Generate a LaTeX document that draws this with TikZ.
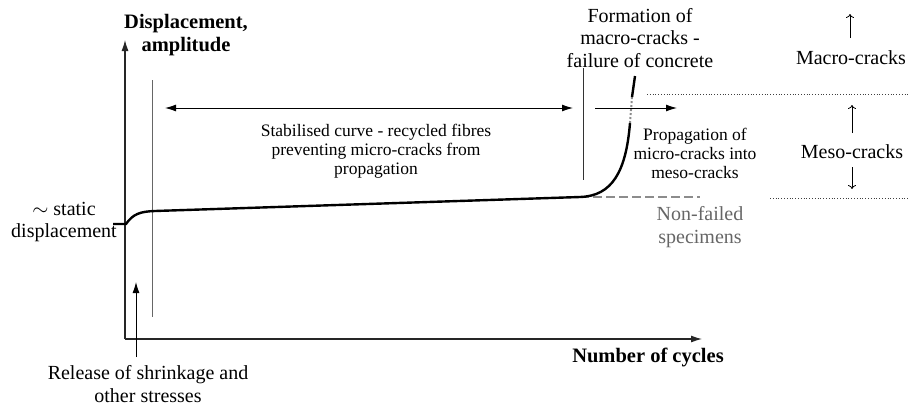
\documentclass[tikz,border=0pt]{standalone}
\usepackage{fontspec}
\setmainfont{Liberation Serif}
\usetikzlibrary{arrows.meta}
\tikzset{
	lbl/.style={align=center,inner sep=0pt,font=\fontsize{20}{22.5}\selectfont},
	smalllbl/.style={align=center,inner sep=0pt,font=\fontsize{17.5}{19}\selectfont},
	axislbl/.style={align=center,inner sep=0pt,font=\fontsize{20.5}{23}\selectfont\bfseries},
	axis/.style={line width=1.1pt,black!85,-{Latex[length=11pt,width=7pt]}},
	pointer/.style={line width=0.9pt,-{Latex[length=11pt,width=7pt]}},
	twoway/.style={line width=0.9pt,{Latex[length=11pt,width=7pt]}-{Latex[length=11pt,width=7pt]}},
	openarrow/.style={line width=0.8pt,-{To[length=4pt,width=8pt]}},
	guide/.style={line width=0.8pt,black!60},
	limit/.style={line width=0.8pt,black!75,dotted},
	curve/.style={line width=2.4pt,black},
	nonfail/.style={line width=2.6pt,black!45,dash pattern=on 9pt off 4pt}
}
\begin{document}
\begin{tikzpicture}[x=1pt,y=-1pt]
	\useasboundingbox (0,0) rectangle (909,407);
	% axes
	\coordinate (O) at (125,339);
	\coordinate (ytip) at (125,40);
	\coordinate (xtip) at (702,339);
	\draw [axis] (O) -- (ytip);
	\draw [axis] (O) -- (xtip);
	\node [axislbl] (ylabel) at (186,35) {Displacement,\\amplitude};
	\node [axislbl] (xlabel) at (648,357) {Number of cycles};
	% guide lines
	\coordinate (gtop) at (152,80);
	\coordinate (gbot) at (152,317);
	\draw [guide] (gtop) -- (gbot);
	\coordinate (ftop) at (583,68);
	\coordinate (fbot) at (583,180);
	\draw [line width=0.8pt,black!80] (ftop) -- (fbot);
	% release of stresses
	\node [lbl] (release) at (148,384) {Release of shrinkage and\\other stresses};
	\coordinate (rtail) at (136,357);
	\coordinate (rtip) at (136,282);
	\draw [pointer] (rtail) -- (rtip);
	% static displacement
	\node [lbl] (static) at (64,222) {$\sim$ static\\displacement};
	% curves
	\coordinate (c0) at (113,224);
	\coordinate (c1) at (126,224);
	\coordinate (c2) at (155,211);
	\coordinate (c3) at (580,197);
	\coordinate (c4) at (630,123);
	\coordinate (c5) at (632,97);
	\coordinate (c6) at (635,76);
	\coordinate (d1) at (700,197);
	\draw [nonfail] (c3) -- (d1);
	\draw [curve] (c0) -- (c1) .. controls (133,214) and (140,211.5) .. (c2) -- (c3) .. controls (612,196) and (626,172) .. (c4);
	\draw [line width=2pt,black!45,dotted] (c4) -- (c5);
	\draw [curve] (c5) -- (c6);
	% stabilised region
	\coordinate (sl) at (165,108);
	\coordinate (sr) at (573,108);
	\draw [twoway] (sl) -- (sr);
	\node [smalllbl] (stab) at (376,151) {Stabilised curve - recycled fibres\\preventing micro-cracks from\\propagation};
	\coordinate (pl) at (595,108);
	\coordinate (pr) at (677,108);
	\draw [pointer] (pl) -- (pr);
	\node [smalllbl] (prop) at (695,153) {Propagation of\\micro-cracks into\\meso-cracks};
	\node [lbl] (formation) at (640,38) {Formation of\\macro-cracks -\\failure of concrete};
	\node [lbl,text=black!60] (nonfailed) at (700,227) {Non-failed\\specimens};
	% crack levels
	\coordinate (m1) at (647,94);
	\coordinate (m2) at (909,94);
	\coordinate (s1) at (770,198);
	\coordinate (s2) at (909,198);
	\draw [limit] (m1) -- (m2);
	\draw [limit] (s1) -- (s2);
	\node [lbl] (macro) at (851,58) {Macro-cracks};
	\node [lbl] (meso) at (852,152) {Meso-cracks};
	\coordinate (mtail) at (850,38);
	\coordinate (mhead) at (850,14);
	\coordinate (stail) at (852,133);
	\coordinate (shead) at (852,105);
	\coordinate (dtail) at (852,167);
	\coordinate (dhead) at (852,189);
	\draw [openarrow] (mtail) -- (mhead);
	\draw [openarrow] (stail) -- (shead);
	\draw [openarrow] (dtail) -- (dhead);
\end{tikzpicture}
\end{document}
